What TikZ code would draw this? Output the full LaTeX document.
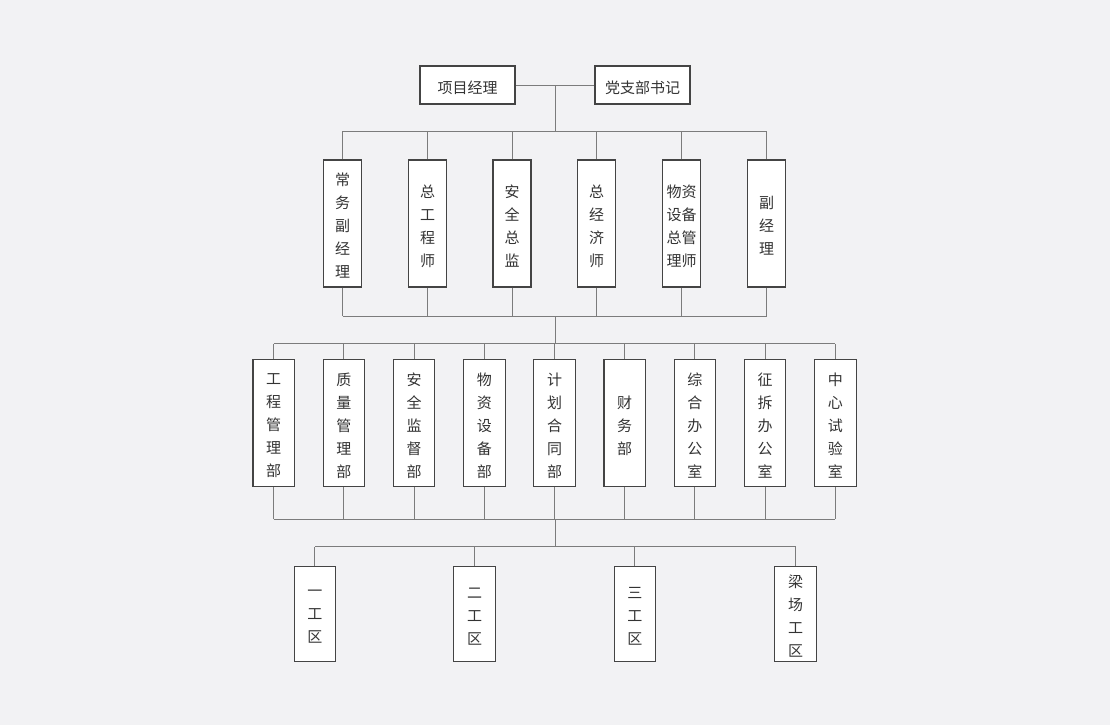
\documentclass[tikz,border=0pt]{standalone}
\usepackage{fontspec}
\newfontfamily\cjk{Noto Sans CJK SC}
\usetikzlibrary{calc}
\definecolor{bg}{HTML}{F2F2F4}
\definecolor{bx}{HTML}{444444}
\definecolor{ln}{HTML}{7C7C7C}
\definecolor{tx}{HTML}{333333}
\tikzset{
  box/.style={draw=bx, fill=white, line width=1.1pt, inner sep=0pt},
  lbl/.style={inner sep=0pt, align=center, text=tx, yshift=-2.5pt,
    font=\cjk\fontsize{15}{23}\selectfont},
  txt/.style={label={[lbl]center:#1}},
  topbox/.style={box, minimum width=95pt, minimum height=38pt},
  r1box/.style={box, minimum width=38pt, minimum height=127pt},
  r2box/.style={box, minimum width=41.5pt, minimum height=127.5pt},
  r3box/.style={box, minimum width=41.5pt, minimum height=95.5pt},
  link/.style={draw=ln, line width=1pt}
}
\begin{document}
\begin{tikzpicture}[x=1pt,y=-1pt]
\useasboundingbox[fill=bg] (0,0) rectangle (1110,725);
% top
\node[topbox, txt={项目经理}] (pm) at (467.5,85) {};
\node[topbox, txt={党支部书记}] (sec) at (642.5,85) {};
% row 1
\node[r1box, txt={常\\务\\副\\经\\理}] (a1) at (342.5,223.5) {};
\node[r1box, txt={总\\工\\程\\师}] (a2) at (427.5,223.5) {};
\node[r1box, txt={安\\全\\总\\监}] (a3) at (512,223.5) {};
\node[r1box, txt={总\\经\\济\\师}] (a4) at (596.7,223.5) {};
\node[r1box, txt={物资\\设备\\总管\\理师}] (a5) at (681.7,223.5) {};
\node[r1box, txt={副\\经\\理}] (a6) at (766.5,223.5) {};
% row 2
\node[r2box, txt={工\\程\\管\\理\\部}] (b1) at (273.7,423) {};
\node[r2box, txt={质\\量\\管\\理\\部}] (b2) at (343.9,423) {};
\node[r2box, txt={安\\全\\监\\督\\部}] (b3) at (414.1,423) {};
\node[r2box, txt={物\\资\\设\\备\\部}] (b4) at (484.3,423) {};
\node[r2box, txt={计\\划\\合\\同\\部}] (b5) at (554.5,423) {};
\node[r2box, txt={财\\务\\部}] (b6) at (624.7,423) {};
\node[r2box, txt={综\\合\\办\\公\\室}] (b7) at (694.9,423) {};
\node[r2box, txt={征\\拆\\办\\公\\室}] (b8) at (765.1,423) {};
\node[r2box, txt={中\\心\\试\\验\\室}] (b9) at (835.3,423) {};
% row 3
\node[r3box, txt={一\\工\\区}] (c1) at (314.8,614) {};
\node[r3box, txt={二\\工\\区}] (c2) at (474.5,614) {};
\node[r3box, txt={三\\工\\区}] (c3) at (634.8,614) {};
\node[r3box, txt={梁\\场\\工\\区}] (c4) at (795.5,614) {};
% junction coordinates
\coordinate (j0) at ($(pm.east)!0.5!(sec.west)$);
\coordinate (u1) at (555,131);
\coordinate (d1) at (555,316);
\coordinate (u2) at (555,343.5);
\coordinate (d2) at (555,519);
\coordinate (u3) at (555,546.5);
% connectors
\draw[link] (pm.east) -- (sec.west);
\draw[link] (j0) -- (j0 |- u1);
\draw[link] (a1.north |- u1) -- (a6.north |- u1);
\draw[link] (a1.south |- d1) -- (a6.south |- d1);
\foreach \n in {a1,a2,a3,a4,a5,a6}{
  \draw[link] (\n.north) -- (\n.north |- u1);
  \draw[link] (\n.south) -- (\n.south |- d1);
}
\draw[link] (d1) -- (u2);
\draw[link] (b1.north |- u2) -- (b9.north |- u2);
\draw[link] (b1.south |- d2) -- (b9.south |- d2);
\foreach \n in {b1,b2,b3,b4,b5,b6,b7,b8,b9}{
  \draw[link] (\n.north) -- (\n.north |- u2);
  \draw[link] (\n.south) -- (\n.south |- d2);
}
\draw[link] (d2) -- (u3);
\draw[link] (c1.north |- u3) -- (c4.north |- u3);
\foreach \n in {c1,c2,c3,c4}{
  \draw[link] (\n.north) -- (\n.north |- u3);
}
\end{tikzpicture}
\end{document}
